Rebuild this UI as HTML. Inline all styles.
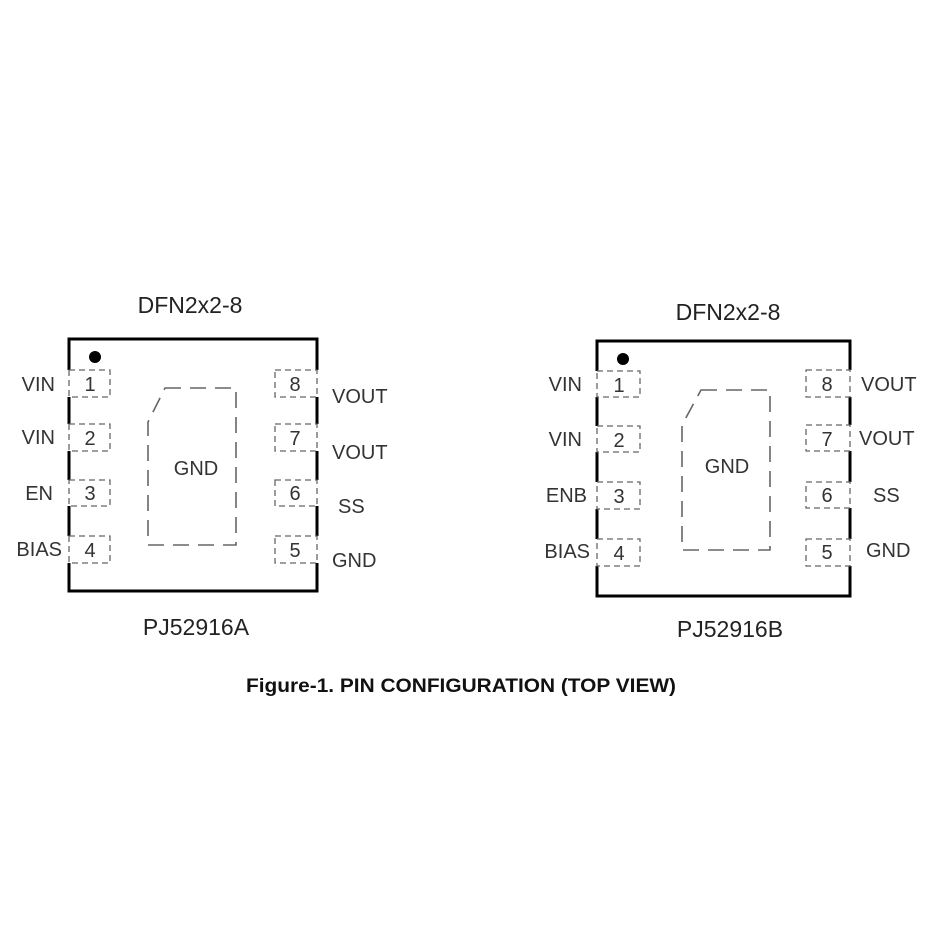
<!DOCTYPE html>
<html><head><meta charset="utf-8"><style>html,body{margin:0;padding:0;background:#fff}svg{display:block}</style></head>
<body>
<svg width="930" height="930" viewBox="0 0 930 930" xmlns="http://www.w3.org/2000/svg" font-family="Liberation Sans, Arial, sans-serif">
<rect width="930" height="930" fill="#fff"/>
<g fill="#222" font-size="23" text-anchor="middle">
<text x="190" y="313">DFN2x2-8</text>
<text x="196" y="635">PJ52916A</text>
<text x="728" y="320">DFN2x2-8</text>
<text x="730" y="637">PJ52916B</text>
</g>
<text x="461" y="692" font-size="19" font-weight="bold" text-anchor="middle" fill="#111" textLength="430" lengthAdjust="spacingAndGlyphs">Figure-1. PIN CONFIGURATION (TOP VIEW)</text>

<!-- Chip A -->
<rect x="69" y="339" width="248" height="252" fill="none" stroke="#000" stroke-width="3"/>
<circle cx="95" cy="357" r="6" fill="#000"/>
<g fill="#fff" stroke="none">
<rect x="66" y="370" width="6" height="27"/><rect x="66" y="424" width="6" height="27"/>
<rect x="66" y="480" width="6" height="26"/><rect x="66" y="536" width="6" height="27"/>
<rect x="314" y="370" width="6" height="27"/><rect x="314" y="424" width="6" height="27"/>
<rect x="314" y="480" width="6" height="26"/><rect x="314" y="536" width="6" height="27"/>
</g>
<g fill="none" stroke="#666" stroke-width="1.3" stroke-dasharray="6,4">
<rect x="69" y="370" width="41" height="27"/><rect x="69" y="424" width="41" height="27"/>
<rect x="69" y="480" width="41" height="26"/><rect x="69" y="536" width="41" height="27"/>
<rect x="275" y="370" width="42" height="27"/><rect x="275" y="424" width="42" height="27"/>
<rect x="275" y="480" width="42" height="26"/><rect x="275" y="536" width="42" height="27"/>
<path d="M165 388 L236 388 L236 545 L148 545 L148 422 Z" stroke-dasharray="16,9" stroke-width="1.6"/>
</g>
<g fill="#333" font-size="20" text-anchor="middle">
<text x="90" y="391">1</text><text x="90" y="445">2</text><text x="90" y="500">3</text><text x="90" y="557">4</text>
<text x="295" y="391">8</text><text x="295" y="445">7</text><text x="295" y="500">6</text><text x="295" y="557">5</text>
<text x="196" y="475">GND</text>
</g>
<g fill="#333" font-size="20">
<g text-anchor="end"><text x="55" y="391">VIN</text><text x="55" y="444">VIN</text><text x="53" y="500">EN</text><text x="62" y="556">BIAS</text></g>
<text x="332" y="403">VOUT</text><text x="332" y="459">VOUT</text><text x="338" y="513">SS</text><text x="332" y="567">GND</text>
</g>

<!-- Chip B -->
<rect x="597" y="341" width="253" height="255" fill="none" stroke="#000" stroke-width="3"/>
<circle cx="623" cy="359" r="6" fill="#000"/>
<g fill="#fff" stroke="none">
<rect x="594" y="371" width="6" height="26"/><rect x="594" y="426" width="6" height="26"/>
<rect x="594" y="482" width="6" height="27"/><rect x="594" y="539" width="6" height="27"/>
<rect x="847" y="370" width="6" height="27"/><rect x="847" y="425" width="6" height="26"/>
<rect x="847" y="482" width="6" height="26"/><rect x="847" y="539" width="6" height="27"/>
</g>
<g fill="none" stroke="#666" stroke-width="1.3" stroke-dasharray="6,4">
<rect x="597" y="371" width="43" height="26"/><rect x="597" y="426" width="43" height="26"/>
<rect x="597" y="482" width="43" height="27"/><rect x="597" y="539" width="43" height="27"/>
<rect x="806" y="370" width="44" height="27"/><rect x="806" y="425" width="44" height="26"/>
<rect x="806" y="482" width="44" height="26"/><rect x="806" y="539" width="44" height="27"/>
<path d="M701 390 L770 390 L770 550 L682 550 L682 425 Z" stroke-dasharray="16,9" stroke-width="1.6"/>
</g>
<g fill="#333" font-size="20" text-anchor="middle">
<text x="619" y="392">1</text><text x="619" y="447">2</text><text x="619" y="503">3</text><text x="619" y="560">4</text>
<text x="827" y="391">8</text><text x="827" y="446">7</text><text x="827" y="502">6</text><text x="827" y="559">5</text>
<text x="727" y="473">GND</text>
</g>
<g fill="#333" font-size="20">
<g text-anchor="end"><text x="582" y="391">VIN</text><text x="582" y="446">VIN</text><text x="587" y="502">ENB</text><text x="590" y="558">BIAS</text></g>
<text x="861" y="391">VOUT</text><text x="859" y="445">VOUT</text><text x="873" y="502">SS</text><text x="866" y="557">GND</text>
</g>
</svg>
</body></html>
